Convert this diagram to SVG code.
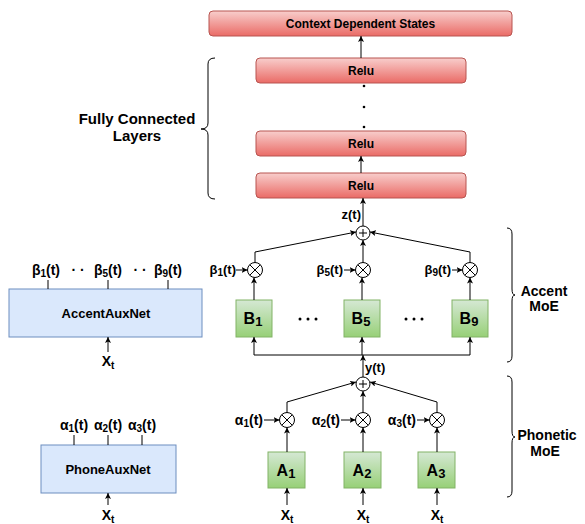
<svg xmlns="http://www.w3.org/2000/svg" width="585" height="524" viewBox="0 0 585 524">
<defs>
<linearGradient id="gRed" x1="0" y1="0" x2="0" y2="1"><stop offset="0" stop-color="#f8cecc"/><stop offset="1" stop-color="#ea6b66"/></linearGradient>
<linearGradient id="gGreen" x1="0" y1="0" x2="0" y2="1"><stop offset="0" stop-color="#d5e8d4"/><stop offset="1" stop-color="#97d077"/></linearGradient>
<marker id="arr" viewBox="0 0 10 10" refX="10" refY="5" markerWidth="6" markerHeight="6" markerUnits="userSpaceOnUse" orient="auto"><path d="M0,0 L10,5 L0,10 L2.5,5 Z" fill="#000"/></marker>
<style>
text{font-family:"Liberation Sans",Arial,Helvetica,sans-serif;font-weight:bold;fill:#000}
.red{fill:url(#gRed);stroke:#b85450;stroke-width:1}
.green{fill:url(#gGreen);stroke:#82b366;stroke-width:1}
.blue{fill:#dae8fc;stroke:#6c8ebf;stroke-width:1}
.ln{fill:none;stroke:#000;stroke-width:1}
.ar{fill:none;stroke:#000;stroke-width:1;marker-end:url(#arr)}
.op{fill:#fff;stroke:#000;stroke-width:1}
.t12{font-size:12px}
.t13{font-size:13px}
.t14{font-size:14px}
.t15{font-size:15px}
.t16{font-size:16px}
.sub{font-size:10px}
.brace{fill:none;stroke:#000;stroke-width:1}
</style>
</defs>

<g id="cds"><rect class="red" x="209" y="11" width="303" height="25" rx="4"/><text class="t12" x="360.5" y="28" text-anchor="middle">Context Dependent States</text></g>
<g id="relu1"><rect class="red" x="256" y="58" width="210" height="25" rx="4"/><text class="t12" x="361" y="75" text-anchor="middle">Relu</text></g>
<g id="relu2"><rect class="red" x="256" y="131" width="210" height="25" rx="4"/><text class="t12" x="361" y="148" text-anchor="middle">Relu</text></g>
<g id="relu3"><rect class="red" x="256" y="173" width="210" height="25" rx="4"/><text class="t12" x="361" y="190" text-anchor="middle">Relu</text></g>
<g id="fcdots"><circle cx="364" cy="86" r="1.3"/><circle cx="364" cy="107" r="1.3"/><circle cx="364" cy="127" r="1.3"/></g>

<g id="fc-brace"><path class="brace" d="M215,58 Q208,58 208,64 L208,123 Q208,129 201,129 Q208,129 208,135 L208,193 Q208,199 215,199"/><text class="t15" x="137" y="124" text-anchor="middle">Fully Connected</text><text class="t15" x="137" y="141" text-anchor="middle">Layers</text></g>

<g id="accent-brace"><path class="brace" d="M507,228 Q512,228 512,234 L512,289 Q512,295 515,295 Q512,295 512,301 L512,356 Q512,362 507,362"/><text class="t14" x="544" y="296" text-anchor="middle">Accent</text><text class="t14" x="544" y="311" text-anchor="middle">MoE</text></g>
<g id="phonetic-brace"><path class="brace" d="M507,376 Q512,376 512,382 L512,431 Q512,437 515,437 Q512,437 512,443 L512,491 Q512,497 507,497"/><text class="t14" x="547" y="440" text-anchor="middle">Phonetic</text><text class="t14" x="545" y="456" text-anchor="middle">MoE</text></g>

<g id="sumZ"><circle class="op" cx="363" cy="233" r="7"/><path class="ln" d="M359,233 H367 M363,229 V237"/></g>
<g id="mulB1"><circle class="op" cx="255" cy="270" r="7.5"/><path class="ln" d="M249.7,264.7 L260.3,275.3 M260.3,264.7 L249.7,275.3"/></g>
<g id="mulB5"><circle class="op" cx="363" cy="270" r="7.5"/><path class="ln" d="M357.7,264.7 L368.3,275.3 M368.3,264.7 L357.7,275.3"/></g>
<g id="mulB9"><circle class="op" cx="470" cy="270" r="7.5"/><path class="ln" d="M464.7,264.7 L475.3,275.3 M475.3,264.7 L464.7,275.3"/></g>
<g id="B1"><rect class="green" x="236" y="300" width="36" height="37"/><text class="t16" x="253" y="324" text-anchor="middle">B<tspan font-size="13" dy="2">1</tspan></text></g>
<g id="B5"><rect class="green" x="344" y="300" width="36" height="37"/><text class="t16" x="361" y="324" text-anchor="middle">B<tspan font-size="13" dy="2">5</tspan></text></g>
<g id="B9"><rect class="green" x="452" y="300" width="36" height="37"/><text class="t16" x="469" y="324" text-anchor="middle">B<tspan font-size="13" dy="2">9</tspan></text></g>
<g id="bdots"><circle cx="300" cy="319" r="1.5"/><circle cx="308" cy="319" r="1.5"/><circle cx="316" cy="319" r="1.5"/><circle cx="406" cy="319" r="1.5"/><circle cx="414" cy="319" r="1.5"/><circle cx="422" cy="319" r="1.5"/></g>

<g id="sumY"><circle class="op" cx="363" cy="384" r="7"/><path class="ln" d="M359,384 H367 M363,380 V388"/></g>
<g id="mulA1"><circle class="op" cx="287" cy="420" r="7.5"/><path class="ln" d="M281.7,414.7 L292.3,425.3 M292.3,414.7 L281.7,425.3"/></g>
<g id="mulA2"><circle class="op" cx="363" cy="420" r="7.5"/><path class="ln" d="M357.7,414.7 L368.3,425.3 M368.3,414.7 L357.7,425.3"/></g>
<g id="mulA3"><circle class="op" cx="437" cy="420" r="7.5"/><path class="ln" d="M431.7,414.7 L442.3,425.3 M442.3,414.7 L431.7,425.3"/></g>
<g id="A1"><rect class="green" x="268" y="452" width="37" height="36"/><text class="t16" x="286" y="476" text-anchor="middle">A<tspan font-size="13" dy="2">1</tspan></text></g>
<g id="A2"><rect class="green" x="344" y="452" width="37" height="36"/><text class="t16" x="362" y="476" text-anchor="middle">A<tspan font-size="13" dy="2">2</tspan></text></g>
<g id="A3"><rect class="green" x="418" y="452" width="37" height="36"/><text class="t16" x="436" y="476" text-anchor="middle">A<tspan font-size="13" dy="2">3</tspan></text></g>

<g id="accentAux"><rect class="blue" x="9" y="289" width="193" height="48"/><text class="t13" x="106" y="318" text-anchor="middle">AccentAuxNet</text></g>
<g id="phoneAux"><rect class="blue" x="41" y="445" width="135" height="48"/><text class="t13" x="108" y="474" text-anchor="middle">PhoneAuxNet</text></g>

<g id="labels">
<text class="t13" x="361" y="219" text-anchor="end">z(t)</text>
<text class="t13" x="365" y="372">y(t)</text>
<text class="t13" x="236" y="274" text-anchor="end">β<tspan class="sub" dy="2">1</tspan><tspan dy="-2">(t)</tspan></text>
<text class="t13" x="343" y="274" text-anchor="end">β<tspan class="sub" dy="2">5</tspan><tspan dy="-2">(t)</tspan></text>
<text class="t13" x="451" y="274" text-anchor="end">β<tspan class="sub" dy="2">9</tspan><tspan dy="-2">(t)</tspan></text>
<text class="t14" x="263" y="425" text-anchor="end">α<tspan class="sub" dy="2">1</tspan><tspan dy="-2">(t)</tspan></text>
<text class="t14" x="340" y="425" text-anchor="end">α<tspan class="sub" dy="2">2</tspan><tspan dy="-2">(t)</tspan></text>
<text class="t14" x="416" y="425" text-anchor="end">α<tspan class="sub" dy="2">3</tspan><tspan dy="-2">(t)</tspan></text>
<text class="t14" x="287" y="520" text-anchor="middle">X<tspan class="sub" dy="3">t</tspan></text>
<text class="t14" x="363" y="520" text-anchor="middle">X<tspan class="sub" dy="3">t</tspan></text>
<text class="t14" x="437" y="520" text-anchor="middle">X<tspan class="sub" dy="3">t</tspan></text>
<text class="t14" x="46" y="275" text-anchor="middle">β<tspan class="sub" dy="2">1</tspan><tspan dy="-2">(t)</tspan></text>
<text class="t14" x="78" y="275" text-anchor="middle">· ·</text>
<text class="t14" x="108" y="275" text-anchor="middle">β<tspan class="sub" dy="2">5</tspan><tspan dy="-2">(t)</tspan></text>
<text class="t14" x="140" y="275" text-anchor="middle">· ·</text>
<text class="t14" x="168" y="275" text-anchor="middle">β<tspan class="sub" dy="2">9</tspan><tspan dy="-2">(t)</tspan></text>
<text class="t14" x="74" y="430" text-anchor="middle">α<tspan class="sub" dy="2">1</tspan><tspan dy="-2">(t)</tspan></text>
<text class="t14" x="108" y="430" text-anchor="middle">α<tspan class="sub" dy="2">2</tspan><tspan dy="-2">(t)</tspan></text>
<text class="t14" x="142" y="430" text-anchor="middle">α<tspan class="sub" dy="2">3</tspan><tspan dy="-2">(t)</tspan></text>
<text class="t14" x="108" y="366" text-anchor="middle">X<tspan class="sub" dy="3">t</tspan></text>
<text class="t14" x="108" y="520" text-anchor="middle">X<tspan class="sub" dy="3">t</tspan></text>
</g>

<g id="connectors">
<path class="ar" d="M361,58 V36"/>
<path class="ar" d="M361,173 V156"/>
<path class="ar" d="M363,226 V198"/>
<path class="ar" d="M255,262.5 V252 L356,232"/>
<path class="ar" d="M470,262.5 V252 L370,232"/>
<path class="ar" d="M363,262.5 V240"/>
<path class="ar" d="M236,270 H247.5"/>
<path class="ar" d="M344,270 H355.5"/>
<path class="ar" d="M452,270 H462.5"/>
<path class="ar" d="M254,300 V277.5"/>
<path class="ar" d="M362,300 V277.5"/>
<path class="ar" d="M470,300 V277.5"/>
<path class="ln" d="M254,355 H470"/>
<path class="ar" d="M254,355 V337"/>
<path class="ar" d="M362,355 V337"/>
<path class="ar" d="M470,355 V337"/>
<path class="ar" d="M363,377 V355"/>
<path class="ar" d="M287,412.5 V402 L356,382"/>
<path class="ar" d="M437,412.5 V402 L370,382"/>
<path class="ar" d="M363,412.5 V391"/>
<path class="ar" d="M264,420 H279.5"/>
<path class="ar" d="M341,420 H355.5"/>
<path class="ar" d="M417,420 H429.5"/>
<path class="ar" d="M287,452 V427.5"/>
<path class="ar" d="M363,452 V427.5"/>
<path class="ar" d="M437,452 V427.5"/>
<path class="ar" d="M287,505 V488"/>
<path class="ar" d="M363,505 V488"/>
<path class="ar" d="M437,505 V488"/>
<path class="ar" d="M108,352 V337"/>
<path class="ar" d="M108,505 V493"/>
<path class="ln" d="M48,280 V289 M108,280 V289 M168,280 V289"/>
<path class="ln" d="M74,435 V445 M108,435 V445 M142,435 V445"/>
</g>
</svg>
